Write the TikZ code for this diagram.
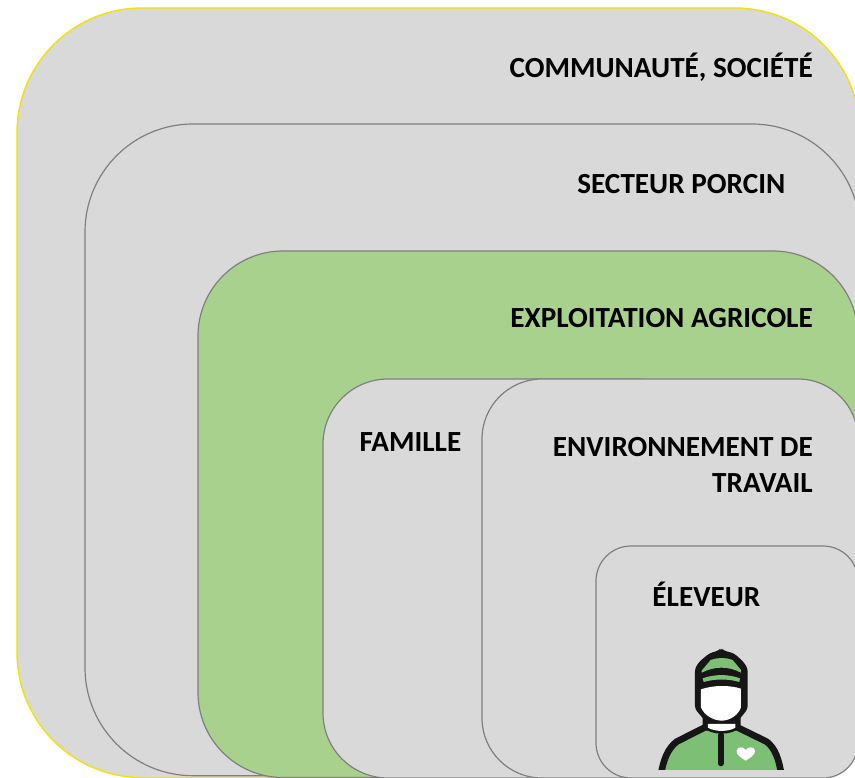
\documentclass[tikz,border=0pt]{standalone}
\usepackage{fontspec}
\setmainfont{Carlito}
\usepackage{xcolor}
\usetikzlibrary{positioning}
\definecolor{panelgray}{HTML}{D9D9D9}
\definecolor{panelgreen}{HTML}{A9D18E}
\definecolor{edgegray}{HTML}{7F7F7F}
\definecolor{edgeyellow}{HTML}{F2E205}
\definecolor{capgreen}{HTML}{7DBF75}
\definecolor{iconblack}{HTML}{161616}

\begin{document}
\begin{tikzpicture}[
		x=1pt, y=-1pt,
		panel/.style={draw=edgegray, fill=panelgray, line width=1.2pt},
		farm/.style={panel, fill=panelgreen},
		label/.style={font=\bfseries\fontsize{29.2}{35}\selectfont, anchor=base east, inner sep=0pt},
		outline/.style={draw=iconblack, line width=6.6pt, line join=round, line cap=round}
	]
	\useasboundingbox (0,0) rectangle (855,778);
	\clip (0,0) rectangle (855,778);

	\draw[panel, draw=edgeyellow, line width=1.4pt, rounded corners=125pt] (17,8) rectangle (860,777.5);
	\draw[panel, rounded corners=108pt] (85,124) rectangle (860,775.7);
	\draw[farm, rounded corners=85pt] (198,251) rectangle (858,777.5);
	\draw[panel, rounded corners=65pt] (323,379) rectangle (700,778);
	\draw[panel, rounded corners=60pt] (482,379) rectangle (858,778);
	\draw[panel, rounded corners=35pt] (596,546) rectangle (858,778);

	\node[label] (societe) at (813,78) {COMMUNAUTÉ, SOCIÉTÉ};
	\node[label] (secteur) at (785.5,194) {SECTEUR PORCIN};
	\node[label] (exploitation) at (813,328) {EXPLOITATION AGRICOLE};
	\node[label] (famille) at (461.5,451) {FAMILLE};
	\node[label] (environnement) at (813,456) {ENVIRONNEMENT DE};
	\node[label] (travail) at (813,492) {TRAVAIL};
	\node[label] (eleveur) at (760.5,606) {ÉLEVEUR};

	\begin{scope}[shift={(630,630)}, x=0.3333pt, y=-0.3333pt]
		\begin{scope}
			\clip (0,0) rectangle (540,418);
			\draw[outline, fill=capgreen] (92,440) .. controls (100,385) and (115,355) .. (140,335) -- (225,292) -- (322,292) -- (410,335) .. controls (435,355) and (447,385) .. (455,440) -- cycle;
		\end{scope}
		\draw[outline, line width=6pt] (272,315) -- (272,400);
		\fill[white] (347,392) .. controls (330,382) and (318,372) .. (320,362) .. controls (322,350) and (340,348) .. (347,360) .. controls (354,348) and (373,350) .. (375,362) .. controls (376,372) and (364,382) .. (347,392) -- cycle;
		\fill[iconblack] (218,255) -- (332,255) -- (332,290) .. controls (310,318) and (240,318) .. (218,290) -- cycle;
		\fill[white] (234,282) -- (316,282) -- (316,293) .. controls (295,306) and (255,306) .. (234,293) -- cycle;
		\fill[iconblack, rounded corners=3pt] (273,54) -- (282,62) -- (312,70) -- (340,95) -- (353,115) -- (353,237) -- (325,272) -- (225,272) -- (195,237) -- (195,115) -- (208,95) -- (238,70) -- (265,62) -- cycle;
		\fill[capgreen] (215,122) -- (242,90) .. controls (265,82) and (285,82) .. (308,90) -- (333,120) -- (333,128) .. controls (295,108) and (255,108) .. (215,128) -- cycle;
		\fill[capgreen] (218,145) .. controls (255,132) and (295,132) .. (330,145) -- (328,156) .. controls (295,146) and (255,146) .. (221,156) -- cycle;
		\fill[white] (213,178) .. controls (250,165) and (300,165) .. (333,176) -- (333,232) .. controls (325,255) and (300,272) .. (275,272) .. controls (250,272) and (222,255) .. (213,232) -- cycle;
	\end{scope}
\end{tikzpicture}
\end{document}
